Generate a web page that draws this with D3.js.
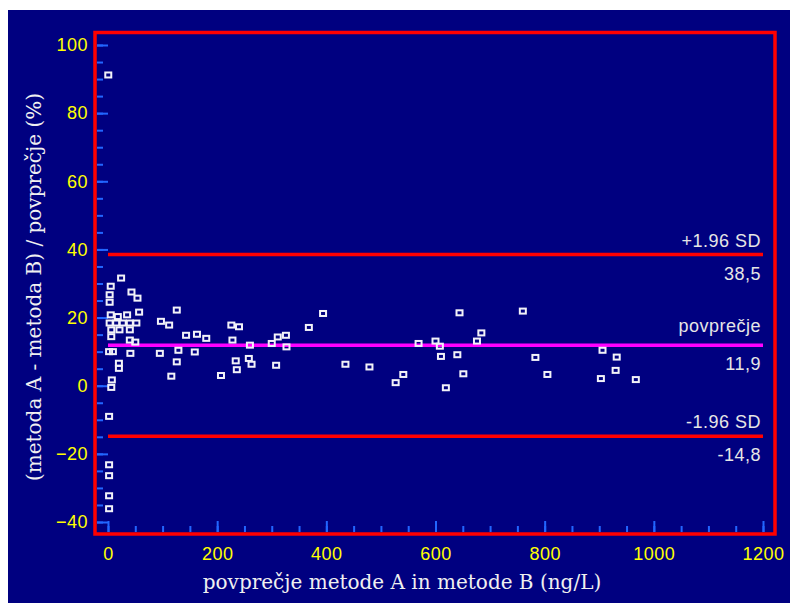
<!DOCTYPE html>
<html>
<head>
<meta charset="utf-8">
<script src="https://cdn.jsdelivr.net/npm/d3@7"></script>
<style>
  html, body { margin: 0; padding: 0; background: #ffffff; }
  svg { display: block; }
</style>
</head>
<body>
<script>
// ---- data ----
const meanAB = [0.5, 24, 5, 3, 43, 54, 3, 57, 5, 18, 35, 97, 3, 15, 27, 40, 52, 6, 21, 40, 6, 40, 50, 2, 9, 41, 95, 20, 20, 7, 6, 2, 2, 2, 2, 2,
  112, 116, 126, 126, 129, 143, 159, 163, 180, 207, 226, 240, 228, 234, 236, 258, 263, 260, 300, 308, 311, 326, 327, 368, 394,
  435, 479, 527, 541, 569, 600, 608, 610, 619, 640, 644, 651, 676, 684, 760, 783, 805, 903, 906, 930, 932, 967];
const pctDiff = [91.2, 31.6, 29.2, 26.7, 27.5, 25.7, 24.5, 21.6, 20.8, 20.3, 20.8, 18.9, 18.4, 18.4, 18.4, 18.4, 18.4, 16.4, 16.4, 16.4, 14.4, 13.4, 12.8, 10.0, 10.0, 9.5, 9.5, 6.6, 5.1, 1.7, -0.5, -9.0, -23.2, -26.4, -32.3, -36.1,
  17.8, 2.8, 22.2, 7.0, 10.4, 14.8, 9.9, 15.1, 13.9, 3.0, 17.8, 17.3, 13.4, 7.3, 4.7, 8.0, 6.3, 11.9, 12.4, 6.0, 14.3, 14.8, 11.4, 17.1, 21.2,
  6.3, 5.5, 0.9, 3.3, 12.4, 13.1, 11.6, 8.6, -0.6, 9.1, 21.4, 3.5, 13.1, 15.5, 21.9, 8.3, 3.3, 2.1, 10.4, 4.5, 8.4, 1.8];

const refValues = [38.5, 11.9, -14.8];
const refNames = ["+1.96 SD", "povprečje", "-1.96 SD"];
const refValueLabels = ["38,5", "11,9", "-14,8"];
const refColors = ["#ff0000", "#ff00ff", "#ff0000"];

const xDomain = [0, 1200];
const yDomain = [-40, 100];
const xMajorTicks = [0, 200, 400, 600, 800, 1000, 1200];
const xMinorStep = 50;
const yMajorTicks = [-40, -20, 0, 20, 40, 60, 80, 100];
const yMinorStep = 5;

const xTitle = "povprečje metode A in metode B (ng/L)";
const yTitle = "(metoda A - metoda B) / povprečje (%)";

// ---- drawing ----
const W = 790, H = 603;
const svg = d3.select("body").append("svg").attr("width", W).attr("height", H);

svg.append("rect").attr("x", 8).attr("y", 10).attr("width", W - 8).attr("height", H - 10).attr("fill", "#000080");

const x = d3.scaleLinear().domain(xDomain).range([108, 763]);
const y = d3.scaleLinear().domain(yDomain).range([522, 45]);

const tickColor = "#2266ff";
const labelFont = "'Liberation Sans', Arial, sans-serif";

function styleTicks(g) {
  g.select(".domain").remove();
  g.selectAll(".tick line").attr("stroke", tickColor).attr("stroke-width", 2);
}

// y ticks (inside, from left frame)
svg.append("g").attr("transform", "translate(97,0)")
  .call(d3.axisRight(y).tickValues(d3.range(yDomain[0], yDomain[1] + 0.1, yMinorStep)).tickSize(6).tickFormat(""))
  .call(styleTicks);
svg.append("g").attr("transform", "translate(97,0)")
  .call(d3.axisRight(y).tickValues(yMajorTicks).tickSize(11).tickFormat(""))
  .call(styleTicks);
// y labels
svg.append("g").attr("transform", "translate(88,0)")
  .call(d3.axisLeft(y).tickValues(yMajorTicks).tickSize(0).tickPadding(0).tickFormat(d3.format("d")))
  .call(g => { g.select(".domain").remove(); g.selectAll("line").remove(); })
  .selectAll("text").attr("fill", "#ffff00").attr("font-family", labelFont).attr("font-size", 18).attr("letter-spacing", 0.5);

// x ticks (inside, from bottom frame)
svg.append("g").attr("transform", "translate(0,532)")
  .call(d3.axisTop(x).tickValues(d3.range(xDomain[0], xDomain[1] + 0.1, xMinorStep)).tickSize(6).tickFormat(""))
  .call(styleTicks);
svg.append("g").attr("transform", "translate(0,532)")
  .call(d3.axisTop(x).tickValues(xMajorTicks).tickSize(11).tickFormat(""))
  .call(styleTicks);
// x labels
svg.append("g").attr("transform", "translate(0,547)")
  .call(d3.axisBottom(x).tickValues(xMajorTicks).tickSize(0).tickPadding(0).tickFormat(d3.format("d")))
  .call(g => { g.select(".domain").remove(); g.selectAll("line").remove(); })
  .selectAll("text").attr("fill", "#ffff00").attr("font-family", labelFont).attr("font-size", 18).attr("letter-spacing", 0.5);

// reference lines
const refG = svg.append("g");
refValues.forEach((v, i) => {
  refG.append("line")
    .attr("x1", x(xDomain[0])).attr("x2", x(xDomain[1]))
    .attr("y1", y(v)).attr("y2", y(v))
    .attr("stroke", refColors[i]).attr("stroke-width", 3.5);
  refG.append("text")
    .attr("x", x(xDomain[1]) - 2).attr("y", y(v) - (i === 1 ? 13 : 8))
    .attr("text-anchor", "end").attr("fill", "#e6e6e6")
    .attr("font-family", labelFont).attr("font-size", 18).attr("letter-spacing", 0.5)
    .text(refNames[i]);
  refG.append("text")
    .attr("x", x(xDomain[1]) - 2).attr("y", y(v) + 25)
    .attr("text-anchor", "end").attr("fill", "#e6e6e6")
    .attr("font-family", labelFont).attr("font-size", 18).attr("letter-spacing", 0.5)
    .text(refValueLabels[i]);
});

// points: hollow squares
svg.append("g").selectAll("rect")
  .data(meanAB.map((d, i) => [d, pctDiff[i]]))
  .join("rect")
  .attr("x", d => x(d[0]) - 3).attr("y", d => y(d[1]) - 2.5)
  .attr("width", 6).attr("height", 5)
  .attr("fill", "none").attr("stroke", "#f2f2f8").attr("stroke-width", 2);

// frame
svg.append("rect").attr("x", 95).attr("y", 32.5).attr("width", 680).attr("height", 501.5)
  .attr("fill", "none").attr("stroke", "#ff0000").attr("stroke-width", 3.5);

// axis titles
svg.append("text").attr("x", 402).attr("y", 589).attr("text-anchor", "middle")
  .attr("fill", "#f0f0f0").attr("font-family", "'DejaVu Serif', serif").attr("font-size", 20)
  .text(xTitle);
svg.append("text").attr("transform", "translate(41,287) rotate(-90)").attr("text-anchor", "middle")
  .attr("fill", "#f0f0f0").attr("font-family", "'DejaVu Serif', serif").attr("font-size", 20)
  .text(yTitle);
</script>
</body>
</html>
